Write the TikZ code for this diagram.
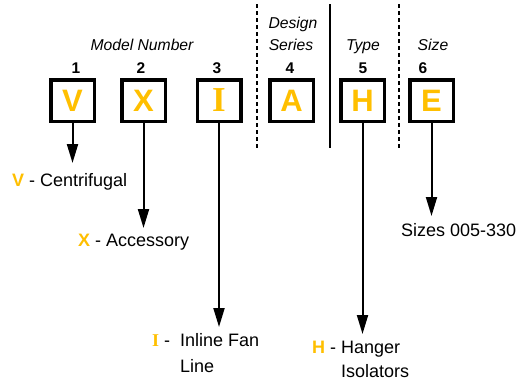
\documentclass[tikz,border=0pt]{standalone}
\usepackage{fontspec}
\setmainfont{Liberation Sans}
\newfontfamily\serifbf{Liberation Serif}
\usetikzlibrary{arrows.meta}
\definecolor{gold}{HTML}{FFBF00}
\begin{document}
\begin{tikzpicture}[x=1pt,y=-1pt,
  codebox/.style={draw, line width=3.5pt, minimum width=43.5pt, minimum height=41.5pt,
    inner sep=0pt, font=\fontsize{31}{31}\selectfont\bfseries, text=gold},
  hdr/.style={font=\fontsize{15.7}{18}\selectfont\itshape, anchor=base, inner sep=0pt},
  num/.style={font=\fontsize{15.5}{18}\selectfont\bfseries, anchor=base, inner sep=0pt},
  lab/.style={font=\fontsize{18}{20}\selectfont, anchor=base west, inner sep=0pt},
  arr/.style={line width=2pt, -{Triangle[length=19pt,width=11pt]}},
  divdash/.style={line width=2pt, dash pattern=on 4pt off 3pt},
  divsolid/.style={line width=1.6pt}
]
\useasboundingbox (0,0) rectangle (517,383);

% headers
\node[hdr] (hmodel) at (142,50.6) {Model Number};
\node[hdr] (hdesign) at (293,28.6) {Design};
\node[hdr] (hseries) at (291,50.6) {Series};
\node[hdr] (htype) at (363,50.6) {Type};
\node[hdr] (hsize) at (433,50.6) {Size};

% numbers
\node[num] (n1) at (76,73.5) {1};
\node[num] (n2) at (141,73.5) {2};
\node[num] (n3) at (217,73.5) {3};
\node[num] (n4) at (290,73.5) {4};
\node[num] (n5) at (363,73.5) {5};
\node[num] (n6) at (423,73.5) {6};

% boxes
\node[codebox] (V) at (72.5,100.5) {V};
\node[codebox] (X) at (143.5,100.5) {X};
\node[codebox] (I) at (219,100.5) {\fontsize{35}{35}\selectfont\serifbf\bfseries I};
\node[codebox] (A) at (291.5,100.5) {A};
\node[codebox] (H) at (362.5,100.5) {H};
\node[codebox] (E) at (431.5,100.5) {E};

% dividers
\coordinate (d1t) at (257,4); \coordinate (d1b) at (257,148);
\coordinate (d2t) at (330,4); \coordinate (d2b) at (330,148);
\coordinate (d3t) at (399,4); \coordinate (d3b) at (399,148);
\draw[divdash] (d1t) -- (d1b);
\draw[divsolid] (d2t) -- (d2b);
\draw[divdash] (d3t) -- (d3b);

% labels
\node[lab] (vlab) at (12,186.5) {{\bfseries\color{gold}V} - Centrifugal};
\node[lab] (xlab) at (78,246.5) {{\bfseries\color{gold}X} - Accessory};
\node[lab, font=\fontsize{18}{26}\selectfont] (ilab) at (152,346)
  {\makebox[28pt][l]{{\serifbf\bfseries\color{gold}I} -}\begin{tabular}[t]{@{}l@{}}Inline Fan\\Line\end{tabular}};
\node[lab, font=\fontsize{18}{23.5}\selectfont] (hlab) at (312,353.5)
  {\makebox[29pt][l]{{\bfseries\color{gold}H} -}\begin{tabular}[t]{@{}l@{}}Hanger\\Isolators\end{tabular}};
\node[lab] (elab) at (401,236.5) {Sizes 005-330};

% arrow ends
\coordinate (vend) at (72.5,163);
\coordinate (xend) at (143.5,228);
\coordinate (iend) at (219,327);
\coordinate (hend) at (362.5,334);
\coordinate (eend) at (431.5,216);

\draw[arr] (V.south) -- (vend);
\draw[arr] (X.south) -- (xend);
\draw[arr] (I.south) -- (iend);
\draw[arr] (H.south) -- (hend);
\draw[arr] (E.south) -- (eend);
\end{tikzpicture}
\end{document}
